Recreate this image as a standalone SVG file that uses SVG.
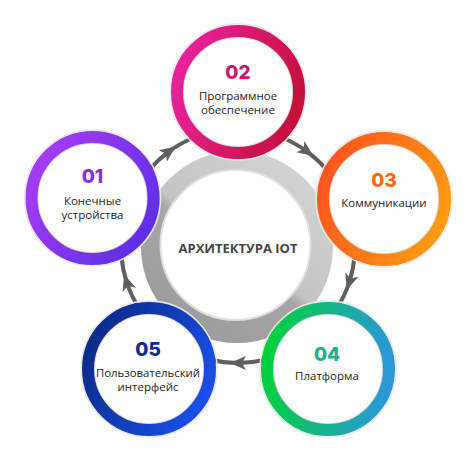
<svg xmlns="http://www.w3.org/2000/svg" width="474" height="460" viewBox="0 0 474 460">
<style>
.ring{fill:none;stroke-width:12}
.inner{fill:#fff;stroke:#dcdcdc;stroke-width:2}
.halo{fill:none;stroke:#e8e8e8;stroke-width:1.5}
.num{font-family:"Inter","Open Sans","Liberation Sans",sans-serif;font-weight:800;font-size:19px;text-anchor:middle}
.lbl{font-family:"Open Sans","Liberation Sans",sans-serif;font-weight:500;font-size:11.5px;fill:#1e1e1e;text-anchor:middle}
.title{font-family:"Open Sans","Liberation Sans",sans-serif;font-weight:700;font-size:13px;fill:#444;text-anchor:middle}
.conn{fill:none;stroke:#5f5f5f;stroke-width:4;marker-mid:url(#arr)}
</style>
<defs>
<linearGradient id="g1" x1="0" y1="0.2" x2="1" y2="0.8"><stop offset="0" stop-color="#a83cf5"/><stop offset="1" stop-color="#5a2ee6"/></linearGradient>
<linearGradient id="g2" x1="0" y1="0.3" x2="1" y2="0.6"><stop offset="0" stop-color="#e8229c"/><stop offset="1" stop-color="#c5103c"/></linearGradient>
<linearGradient id="g3" x1="0" y1="0.3" x2="1" y2="0.7"><stop offset="0" stop-color="#ff561f"/><stop offset="1" stop-color="#ff9c12"/></linearGradient>
<linearGradient id="g4" x1="0" y1="0.4" x2="1" y2="0.5"><stop offset="0" stop-color="#00d040"/><stop offset="1" stop-color="#2b97d8"/></linearGradient>
<linearGradient id="g5" x1="0" y1="0.2" x2="1" y2="0.7"><stop offset="0" stop-color="#0a2a86"/><stop offset="1" stop-color="#1a50ea"/></linearGradient>
<linearGradient id="gc" x1="0.8" y1="0.1" x2="0.2" y2="0.9"><stop offset="0" stop-color="#d2d2d2"/><stop offset="0.5" stop-color="#c4c4c4"/><stop offset="0.56" stop-color="#a6a6a6"/><stop offset="1" stop-color="#9c9c9c"/></linearGradient>
<marker id="arr" markerUnits="userSpaceOnUse" markerWidth="18" markerHeight="16" refX="8" refY="8" orient="auto">
<path d="M0,1 L16,8 L0,15 L4,8 Z" fill="#5f5f5f"/>
</marker>
</defs>

<g id="center">
<circle cx="237" cy="247" r="96" fill="url(#gc)"/>
<circle cx="235.5" cy="245" r="75" fill="#fff" stroke="#e0e0e0" stroke-width="2"/>
<text class="title" x="238" y="253">АРХИТЕКТУРА IOT</text>
</g>

<g id="connectors">
<path class="conn" d="M148.4,170.8 A117,117 0 0 1 169.2,151.3 A117,117 0 0 1 194.2,137.5"/>
<path class="conn" d="M281.8,137.5 A117,117 0 0 1 306.8,151.3 A117,117 0 0 1 327.6,170.8"/>
<path class="conn" d="M354.7,254.2 A117,117 0 0 1 349.3,282.2 A117,117 0 0 1 337.2,308.0"/>
<path class="conn" d="M266.3,359.5 A117,117 0 0 1 238,363 A117,117 0 0 1 209.7,359.5"/>
<path class="conn" d="M138.8,308.0 A117,117 0 0 1 126.7,282.2 A117,117 0 0 1 121.3,254.2"/>
</g>

<g id="node01">
<circle class="halo" cx="92.5" cy="198" r="68"/>
<circle class="inner" cx="92.5" cy="198" r="55"/>
<circle class="ring" cx="92.5" cy="198" r="61" stroke="url(#g1)"/>
<text class="num" x="92.5" y="183" fill="#8a2ee8">01</text>
<text class="lbl" x="92.5" y="205">Конечные</text>
<text class="lbl" x="92.5" y="219">устройства</text>
</g>

<g id="node02">
<circle class="halo" cx="238" cy="92" r="68"/>
<circle class="inner" cx="238" cy="92" r="55"/>
<circle class="ring" cx="238" cy="92" r="61" stroke="url(#g2)"/>
<text class="num" x="238" y="79" fill="#c8186f">02</text>
<text class="lbl" x="238" y="100">Программное</text>
<text class="lbl" x="238" y="114">обеспечение</text>
</g>

<g id="node03">
<circle class="halo" cx="384" cy="199" r="68"/>
<circle class="inner" cx="384" cy="199" r="55"/>
<circle class="ring" cx="384" cy="199" r="61" stroke="url(#g3)"/>
<text class="num" x="384" y="187" fill="#ff6a18">03</text>
<text class="lbl" x="384" y="207">Коммуникации</text>
</g>

<g id="node04">
<circle class="halo" cx="328" cy="369" r="68"/>
<circle class="inner" cx="328" cy="369" r="55"/>
<circle class="ring" cx="328" cy="369" r="61" stroke="url(#g4)"/>
<text class="num" x="327" y="361" fill="#18b283">04</text>
<text class="lbl" x="327" y="380">Платформа</text>
</g>

<g id="node05">
<circle class="halo" cx="149" cy="369" r="68"/>
<circle class="inner" cx="149" cy="369" r="55"/>
<circle class="ring" cx="149" cy="369" r="61" stroke="url(#g5)"/>
<text class="num" x="148" y="356" fill="#0c2c8f">05</text>
<text class="lbl" x="148" y="377" font-size="11" textLength="104" lengthAdjust="spacingAndGlyphs">Пользовательский</text>
<text class="lbl" x="148" y="391">интерфейс</text>
</g>
</svg>
